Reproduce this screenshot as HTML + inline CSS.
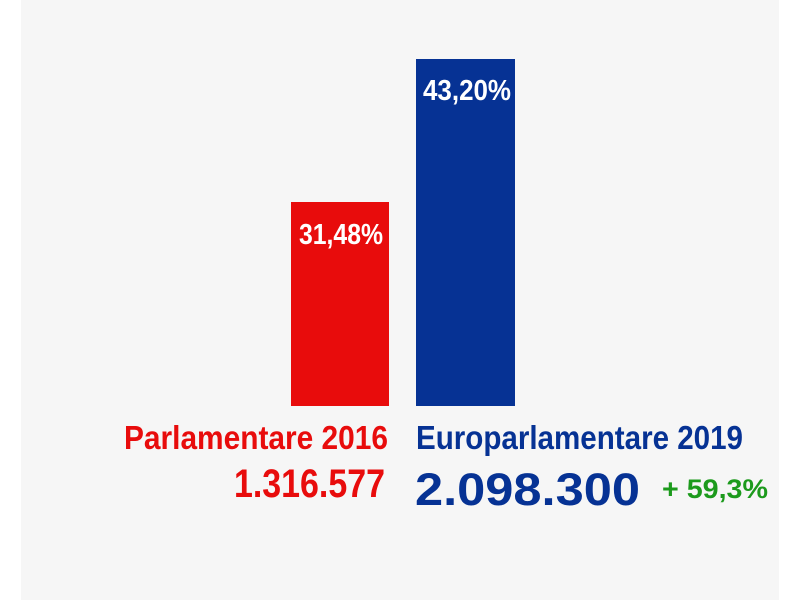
<!DOCTYPE html>
<html><head><meta charset="utf-8"><style>
html,body{margin:0;padding:0;background:#fff;}
svg{display:block}
text{font-family:"Liberation Sans Narrow","Liberation Sans",sans-serif;font-weight:bold;}
</style></head><body>
<svg width="800" height="600" viewBox="0 0 800 600" xmlns="http://www.w3.org/2000/svg">
<rect x="21" y="0" width="758" height="600" fill="#f6f6f6"/>
<rect x="291" y="202" width="98" height="204" fill="#e80c0c"/>
<rect x="416" y="59" width="99" height="347" fill="#063294"/>
<text x="299" y="244" font-size="29" fill="#fff" textLength="84" lengthAdjust="spacingAndGlyphs">31,48%</text>
<text x="423" y="100" font-size="29" fill="#fff" textLength="88" lengthAdjust="spacingAndGlyphs">43,20%</text>
<text x="124" y="449" font-size="33" fill="#e80c0c" textLength="264" lengthAdjust="spacingAndGlyphs">Parlamentare 2016</text>
<text x="234" y="497" font-size="40" fill="#e80c0c" textLength="151" lengthAdjust="spacingAndGlyphs">1.316.577</text>
<text x="416" y="449" font-size="33" fill="#063294" textLength="327" lengthAdjust="spacingAndGlyphs">Europarlamentare 2019</text>
<text x="415" y="505" font-size="45" fill="#063294" textLength="225" lengthAdjust="spacingAndGlyphs">2.098.300</text>
<text x="662" y="498" font-size="27" fill="#1c9a1c" textLength="106" lengthAdjust="spacingAndGlyphs">+ 59,3%</text>
</svg>
</body></html>
